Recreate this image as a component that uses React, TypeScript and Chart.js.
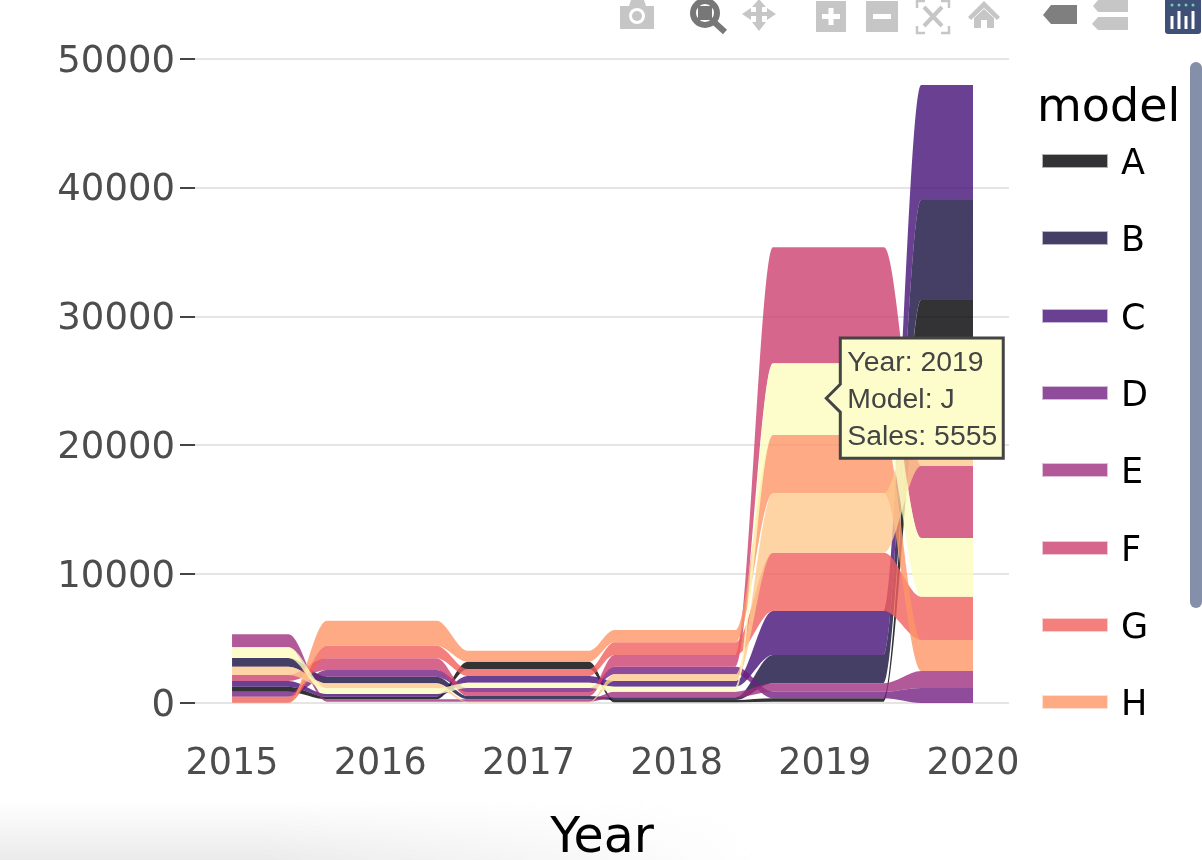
import React, { useEffect, useRef } from "react";
import { Chart, registerables, Tooltip } from "chart.js";

Chart.register(...registerables);

const years = [2015, 2016, 2017, 2018, 2019, 2020];
const models = ["A", "B", "C", "D", "E", "F", "G", "H", "I", "J"];
const legendModels = ["A", "B", "C", "D", "E", "F", "G", "H"];
const yTicks = [0, 10000, 20000, 30000, 40000, 50000];

const highA = [1266, 489, 3207, 233, 365, 31289];
const lowA = [877, 287, 2640, 54, 101, 24690];
const highB = [3494, 2042, 543, 443, 3727, 39053];
const lowB = [2818, 1530, 287, 233, 1530, 31289];
const highC = [1708, 699, 2096, 1708, 7143, 47982];
const lowC = [1266, 489, 1576, 1266, 3727, 39053];
const highD = [877, 2562, 1165, 2818, 877, 1165];
const lowD = [489, 2042, 854, 2228, 365, 0];
const highE = [5334, 287, 287, 877, 1530, 2484];
const lowE = [4325, 101, 101, 443, 877, 1165];
const highF = [2174, 3470, 854, 3727, 35381, 18401];
const lowF = [1708, 2562, 543, 2818, 26374, 12811];
const highG = [489, 4449, 2640, 4713, 11669, 8253];
const lowG = [23, 3470, 2096, 3727, 7143, 4891];
const highH = [23, 6390, 4061, 5668, 20808, 4891];
const lowH = [0, 4449, 3207, 4713, 16281, 2484];
const highI = [2818, 1530, 101, 2228, 16281, 24690];
const lowI = [2174, 1141, 39, 1708, 11669, 18401];
const highJ = [4325, 1141, 1576, 1266, 26363, 12811];
const lowJ = [3494, 699, 1165, 877, 20808, 8253];

const highs = [highA, highB, highC, highD, highE, highF, highG, highH, highI, highJ];
const lows = [lowA, lowB, lowC, lowD, lowE, lowF, lowG, lowH, lowI, lowJ];
const colors = [
  "rgba(0,0,4,0.8)",
  "rgba(24,15,62,0.8)",
  "rgba(69,16,119,0.8)",
  "rgba(114,31,129,0.8)",
  "rgba(159,47,127,0.8)",
  "rgba(205,64,113,0.8)",
  "rgba(241,96,93,0.8)",
  "rgba(253,149,103,0.8)",
  "rgba(254,201,141,0.8)",
  "rgba(252,253,191,0.8)",
];
const outlineColors = colors.map((c) => c.replace("0.8)", "0.3)"));

// where, between one year and the next, each crossing begins and ends
const crossingStart = [0.38, 0.38, 0.41, 0.4, 0.4];
const crossingEnd = [0.64, 0.59, 0.58, 0.65, 0.65];
const hoverYear = 2019;
const hoverModel = "J";

// each year's value is held either side of the year; the monotone curve makes the S between them
function ribbonEdge(values: number[]) {
  const pts: { x: number; y: number; year?: number }[] = [];
  years.forEach((yr, i) => {
    if (i > 0) pts.push({ x: yr - 1 + crossingEnd[i - 1], y: values[i] });
    pts.push({ x: yr, y: values[i], year: yr });
    if (i < years.length - 1) pts.push({ x: yr + crossingStart[i], y: values[i] });
  });
  return pts;
}

(Tooltip.positioners as any).ribbonMiddle = function (items: any[]) {
  if (!items.length) return false;
  const it = items[0];
  const lowEl = this.chart.getDatasetMeta(it.datasetIndex + 1).data[it.index];
  return { x: it.element.x + 1.5, y: (it.element.y + lowEl.y) / 2 - 1 };
};

function buildDatasets() {
  const out: any[] = [];
  for (let m = models.length - 1; m >= 0; m--) {
    const base = {
      borderWidth: 0,
      pointRadius: 0,
      pointHitRadius: 0,
      cubicInterpolationMode: "monotone",
      backgroundColor: colors[m],
      borderColor: "rgba(0,0,0,0)",
    };
    out.push({ ...base, label: models[m], data: ribbonEdge(highs[m]), fill: "+1" });
    out.push({ ...base, label: models[m] + " low", data: ribbonEdge(lows[m]), fill: false });
  }
  return out;
}

function Toolbar() {
  const light = "#c6c6c6";
  return (
    <svg width={1202} height={40} style={{ position: "absolute", left: 0, top: 0 }}>
      {/* camera */}
      <path d="M620 6h9l2-6h13l2 6h8v23h-34z" fill={light} />
      <circle cx={637} cy={16} r={8} fill="#fff" />
      <circle cx={637} cy={16} r={5} fill={light} />
      {/* zoom */}
      <circle cx={705} cy={13} r={12} fill="none" stroke="#777" strokeWidth={6} />
      <rect x={698} y={6} width={14} height={14} fill="#777" />
      <path d="M714 22l11 10" stroke="#777" strokeWidth={6} />
      {/* pan */}
      <path d="M759 -1l7 8h-4v5h5v-4l9 6-9 6v-4h-5v6h4l-7 9-7-9h4v-6h-5v4l-9-6 9-6v4h5v-5h-4z" fill={light} />
      {/* plus */}
      <rect x={816} y={1} width={30} height={31} fill={light} />
      <path d="M831 8v17M822 16.500h18" stroke="#fff" strokeWidth={5} />
      {/* minus */}
      <rect x={866} y={1} width={32} height={31} fill={light} />
      <path d="M873 16.500h18" stroke="#fff" strokeWidth={5} />
      {/* autoscale */}
      <path d="M917 8V1h8M941 1h8v7M949 26v7h-8M925 33h-8v-7" fill="none" stroke={light} strokeWidth={2.500} />
      <path d="M924 7l18 19M942 7l-18 19" stroke={light} strokeWidth={4} />
      {/* home */}
      <path d="M984 1l16 16-3 3-13-12-13 12-3-3z" fill={light} />
      <path d="M974 18l10-9 10 9v10h-7v-8h-6v8h-7z" fill={light} />
      {/* spike */}
      <path d="M1043 15l8-10h26v19h-26z" fill="#7f7f7f" />
      {/* compare */}
      <path d="M1098 0h30v12h-30l-5-6z" fill={light} />
      <path d="M1098 17h30v13h-30l-6-6z" fill={light} />
      {/* logo */}
      <rect x={1165} y={-2} width={36} height={36} rx={3} fill="#3f4f75" />
      {[1172, 1179, 1186, 1193].map((x) => (
        <circle key={x} cx={x} cy={5} r={1.500} fill="#6fcdc4" />
      ))}
      <path d="M1172 16v13M1179 11v18M1186 16v13M1193 11v18" stroke="#fff" strokeWidth={3} />
    </svg>
  );
}

function Legend() {
  const text: React.CSSProperties = {
    position: "absolute",
    fontFamily: "'DejaVu Sans', sans-serif",
    color: "#000",
    whiteSpace: "nowrap",
    lineHeight: 1,
  };
  return (
    <>
      <div style={{ ...text, left: 1037, top: 82, fontSize: 46 }}>model</div>
      {legendModels.map((m, i) => {
        const cy = 161 + i * 77.3;
        return (
          <React.Fragment key={m}>
            <div
              style={{
                position: "absolute",
                boxSizing: "border-box",
                left: 1042,
                top: cy - 7,
                width: 66,
                height: 14,
                background: colors[i],
                backgroundClip: "padding-box",
                border: `1px solid ${outlineColors[i]}`,
              }}
            />
            <div style={{ ...text, left: 1121, top: cy - 16, fontSize: 35 }}>{m}</div>
          </React.Fragment>
        );
      })}
      <div
        style={{
          position: "absolute",
          left: 1190,
          top: 62,
          width: 12,
          height: 546,
          background: "#8490a9",
          borderRadius: 6,
        }}
      />
    </>
  );
}

export default function App() {
  const ref = useRef<HTMLCanvasElement>(null);

  useEffect(() => {
    const chart = new Chart(ref.current as HTMLCanvasElement, {
      type: "line",
      data: { datasets: buildDatasets() },
      options: {
        responsive: false,
        animation: false,
        events: [],
        layout: { padding: { left: 0, right: 193, top: 59, bottom: 0 } },
        plugins: {
          legend: { display: false },
          title: { display: false },
          filler: { drawTime: "beforeDatasetDraw", propagate: false },
          tooltip: {
            enabled: true,
            animation: false,
            position: "ribbonMiddle",
            xAlign: "left",
            yAlign: "center",
            backgroundColor: "#fdfdcc",
            borderColor: "#444",
            borderWidth: 3,
            cornerRadius: 0,
            caretSize: 14,
            caretPadding: 0,
            displayColors: false,
            bodyColor: "#444",
            bodyFont: { family: "'Liberation Sans', Arial, sans-serif", size: 28.4, lineHeight: 1.2 },
            bodySpacing: 3,
            padding: { left: 7, right: 6, top: 8, bottom: 4 },
            callbacks: {
              title: () => "",
              label: () => {
                const m = models.indexOf(hoverModel);
                const y = years.indexOf(hoverYear);
                return [
                  `Year: ${hoverYear}`,
                  `Model: ${hoverModel}`,
                  `Sales: ${Math.round(highs[m][y] - lows[m][y])}`,
                ];
              },
            },
          },
        },
        scales: {
          x: {
            type: "linear",
            min: 2014.75,
            max: 2020.243,
            afterFit: (s: any) => {
              s.height = 157;
            },
            grid: { display: false },
            border: { display: false },
            ticks: {
              stepSize: 1,
              includeBounds: false,
              autoSkip: false,
              maxRotation: 0,
              padding: 32,
              color: "#4d4d4d",
              font: { family: "'DejaVu Sans', sans-serif", size: 36.5 },
              callback: (v: any) => String(v),
            },
            title: {
              display: true,
              text: "Year",
              color: "#000",
              font: { family: "'DejaVu Sans', sans-serif", size: 49, lineHeight: 0.85 },
              padding: { top: 20, bottom: 0 },
            },
          },
          y: {
            type: "linear",
            min: 0,
            max: 50000,
            afterFit: (s: any) => {
              s.width = 195;
            },
            afterBuildTicks: (s: any) => {
              s.ticks = yTicks.map((value) => ({ value }));
            },
            grid: {
              color: "#e5e5e5",
              lineWidth: 2,
              tickColor: "#444",
              tickLength: 15,
              tickWidth: 2,
            },
            border: { display: false },
            ticks: {
              padding: 5,
              color: "#4d4d4d",
              font: { family: "'DejaVu Sans', sans-serif", size: 37, lineHeight: "6px" },
              // the empty first line drops the label so that it sits centred on its grid line
              callback: (v: any) => ["", String(v)],
            },
          },
        },
      },
    } as any);

    const dsIndex = chart.data.datasets.findIndex((d: any) => d.label === hoverModel);
    const ptIndex = (chart.data.datasets[dsIndex].data as any[]).findIndex((p) => p.year === hoverYear);
    chart.tooltip!.setActiveElements([{ datasetIndex: dsIndex, index: ptIndex }], { x: 0, y: 0 });
    chart.update();

    return () => chart.destroy();
  }, []);

  return (
    <div style={{ position: "fixed", left: 0, top: 0, width: 1202, height: 860, overflow: "hidden", background: "#fff" }}>
      <div
        style={{
          position: "absolute",
          left: 0,
          bottom: 0,
          width: 760,
          height: 60,
          background: "linear-gradient(to top, #ebebeb, rgba(235,235,235,0))",
          WebkitMaskImage: "linear-gradient(to right, #000 35%, transparent 100%)",
          maskImage: "linear-gradient(to right, #000 35%, transparent 100%)",
        }}
      />
      <canvas ref={ref} width={1202} height={860} style={{ position: "absolute", left: 0, top: 0, display: "block" }} />
      <Toolbar />
      <Legend />
    </div>
  );
}
